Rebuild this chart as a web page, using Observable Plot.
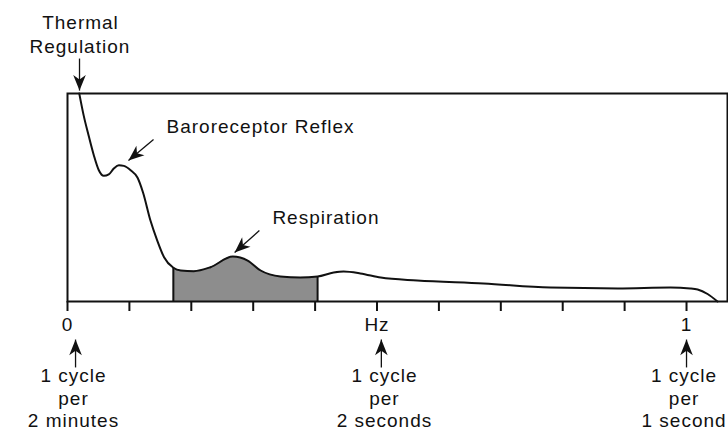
<!DOCTYPE html>
<html>
<head>
<meta charset="utf-8">
<script src="https://cdn.jsdelivr.net/npm/d3@7"></script>
<script src="https://cdn.jsdelivr.net/npm/@observablehq/plot@0.6"></script>
<style>
  html, body { margin: 0; padding: 0; background: #fff; }
  #chart svg { font-family: "Liberation Sans", Arial, Helvetica, sans-serif; font-size: 19px; letter-spacing: 1px; color: #111; background: #fff; overflow: visible; }
  #chart svg g[aria-label="x-axis tick"], #chart svg g[aria-label="x-axis"] line { stroke-width: 2px; }
</style>
</head>
<body>
<div id="chart"></div>
<script>
// ---- Spectrum (frequency in Hz, relative power) ----
const freqHz = [0.019, 0.026, 0.034, 0.0425, 0.0506, 0.0586, 0.0667, 0.0748, 0.083, 0.091, 0.102, 0.113, 0.122,
                0.134, 0.145, 0.156, 0.171, 0.183, 0.204, 0.231, 0.267, 0.291, 0.312, 0.344, 0.376, 0.404,
                0.430, 0.446, 0.473, 0.506, 0.565, 0.672, 0.780, 0.889, 0.974, 1.006, 1.018, 1.034, 1.050];
const power  = [100, 89.6, 79.9, 70.3, 63.1, 60.4, 61.1, 63.9, 65.5, 65.2, 63.1, 59.6, 52.4,
                38.9, 29.3, 21.3, 16.2, 14.9, 14.6, 16.5, 21.6, 19.7, 14.9, 12.0, 11.5, 12.0,
                13.9, 14.4, 13.5, 11.5, 10.1, 8.7, 6.7, 6.3, 6.7, 6.3, 5.8, 3.6, 0];

// shaded respiration band
const bandStart = 0.171;
const bandEnd = 0.404;

// axis ticks
const tickValues = [0, 0.1, 0.2, 0.3, 0.4, 0.5, 0.6, 0.7, 0.8, 0.9, 1.0];
const labeledTicks = [0, 0.5, 1.0];
const tickLabels = ["0", "Hz", "1"];

// centred annotations (data coordinates)
const titleText  = ["Thermal", "Regulation"];
const titleFreq  = [0.021, 0.020];
const titlePower = [134.1, 122.6];
// left-aligned annotations
const noteText   = ["Baroreceptor Reflex", "Respiration"];
const noteFreq   = [0.160, 0.331];
const notePower  = [84.1, 40.4];

// arrows: start -> tip
const arrowFromFreq  = [0.0194, 0.139, 0.310, 0.013, 0.507, 1.000];
const arrowFromPower = [116.8, 77.9, 34.1, -31.7, -31.7, -31.7];
const arrowToFreq    = [0.0194, 0.0985, 0.270, 0.013, 0.507, 1.000];
const arrowToPower   = [101.4, 67.8, 23.6, -18.3, -18.3, -18.3];

// cycle captions under axis
const captionLines = ["1 cycle", "per", "2 minutes", "1 cycle", "per", "2 seconds", "1 cycle", "per", "1 second"];
const captionFreq  = [0.0097, 0.0097, 0.0097, 0.512, 0.512, 0.512, 0.996, 0.996, 0.996];
const captionPower = [-35.6, -46.6, -57.2, -35.6, -46.6, -57.2, -35.6, -46.6, -57.2];

// ---- layout ----
const W = 728, H = 430;
const mL = 67, mR = 1, mT = 93, mB = 129;
const xDomain = [0, 1.0662];
const yDomain = [0, 100];
const pxPerX = (W - mL - mR) / (xDomain[1] - xDomain[0]);
const pxPerY = (H - mT - mB) / (yDomain[1] - yDomain[0]);

const spectrum = freqHz.map((f, i) => ({f, p: power[i]}));
const band = spectrum.filter(d => d.f >= bandStart - 1e-9 && d.f <= bandEnd + 1e-9);
const bandEdges = band.filter(d => d.f === bandStart || d.f === bandEnd);
const titles = titleText.map((t, i) => ({t, f: titleFreq[i], p: titlePower[i]}));
const notes = noteText.map((t, i) => ({t, f: noteFreq[i], p: notePower[i]}));
const arrows = arrowFromFreq.map((f1, i) => {
  const f2 = arrowToFreq[i], p1 = arrowFromPower[i], p2 = arrowToPower[i];
  const dx = (f2 - f1) * pxPerX, dy = -(p2 - p1) * pxPerY;
  return {f1, p1, f2, p2, angle: Math.atan2(dx, -dy) * 180 / Math.PI};
});
const captions = captionLines.map((t, i) => ({t, f: captionFreq[i], p: captionPower[i]}));

const arrowHead = {
  draw(ctx, size) {
    const r = Math.sqrt(size / Math.PI);
    ctx.moveTo(0, 0);
    ctx.lineTo(-1.05 * r, 2.6 * r);
    ctx.lineTo(0, 1.85 * r);
    ctx.lineTo(1.05 * r, 2.6 * r);
    ctx.closePath();
  }
};

const chart = Plot.plot({
  width: W, height: H,
  marginLeft: mL, marginRight: mR, marginTop: mT, marginBottom: mB,
  style: "font-family: 'Liberation Sans', Arial, sans-serif; font-size: 19px; background: #fff; overflow: visible;",
  x: {domain: xDomain, ticks: tickValues, tickSize: 10, tickPadding: 6,
      tickFormat: d => { const k = labeledTicks.findIndex(v => Math.abs(v - d) < 1e-9); return k >= 0 ? tickLabels[k] : ""; },
      label: null},
  y: {domain: yDomain, axis: null},
  marks: [
    Plot.areaY(band, {x: "f", y: "p", fill: "#8d8d8d", curve: "monotone-x"}),
    Plot.ruleX(bandEdges, {x: "f", y1: 0, y2: "p", stroke: "#111", strokeWidth: 2}),
    Plot.frame({stroke: "#111", strokeWidth: 2}),
    Plot.line(spectrum, {x: "f", y: "p", stroke: "#111", strokeWidth: 2, curve: "monotone-x"}),
    Plot.link(arrows, {x1: "f1", y1: "p1", x2: "f2", y2: "p2", stroke: "#111", strokeWidth: 1.3}),
    Plot.dot(arrows, {x: "f2", y: "p2", r: 6, symbol: arrowHead, rotate: "angle", fill: "#111", stroke: "none"}),
    Plot.text(titles, {x: "f", y: "p", text: "t", textAnchor: "middle", fontSize: 19, fill: "#111"}),
    Plot.text(notes, {x: "f", y: "p", text: "t", textAnchor: "start", fontSize: 19, fill: "#111"}),
    Plot.text(captions, {x: "f", y: "p", text: "t", textAnchor: "middle", fontSize: 19, fill: "#111"})
  ]
});
document.getElementById("chart").appendChild(chart);
</script>
</body>
</html>
